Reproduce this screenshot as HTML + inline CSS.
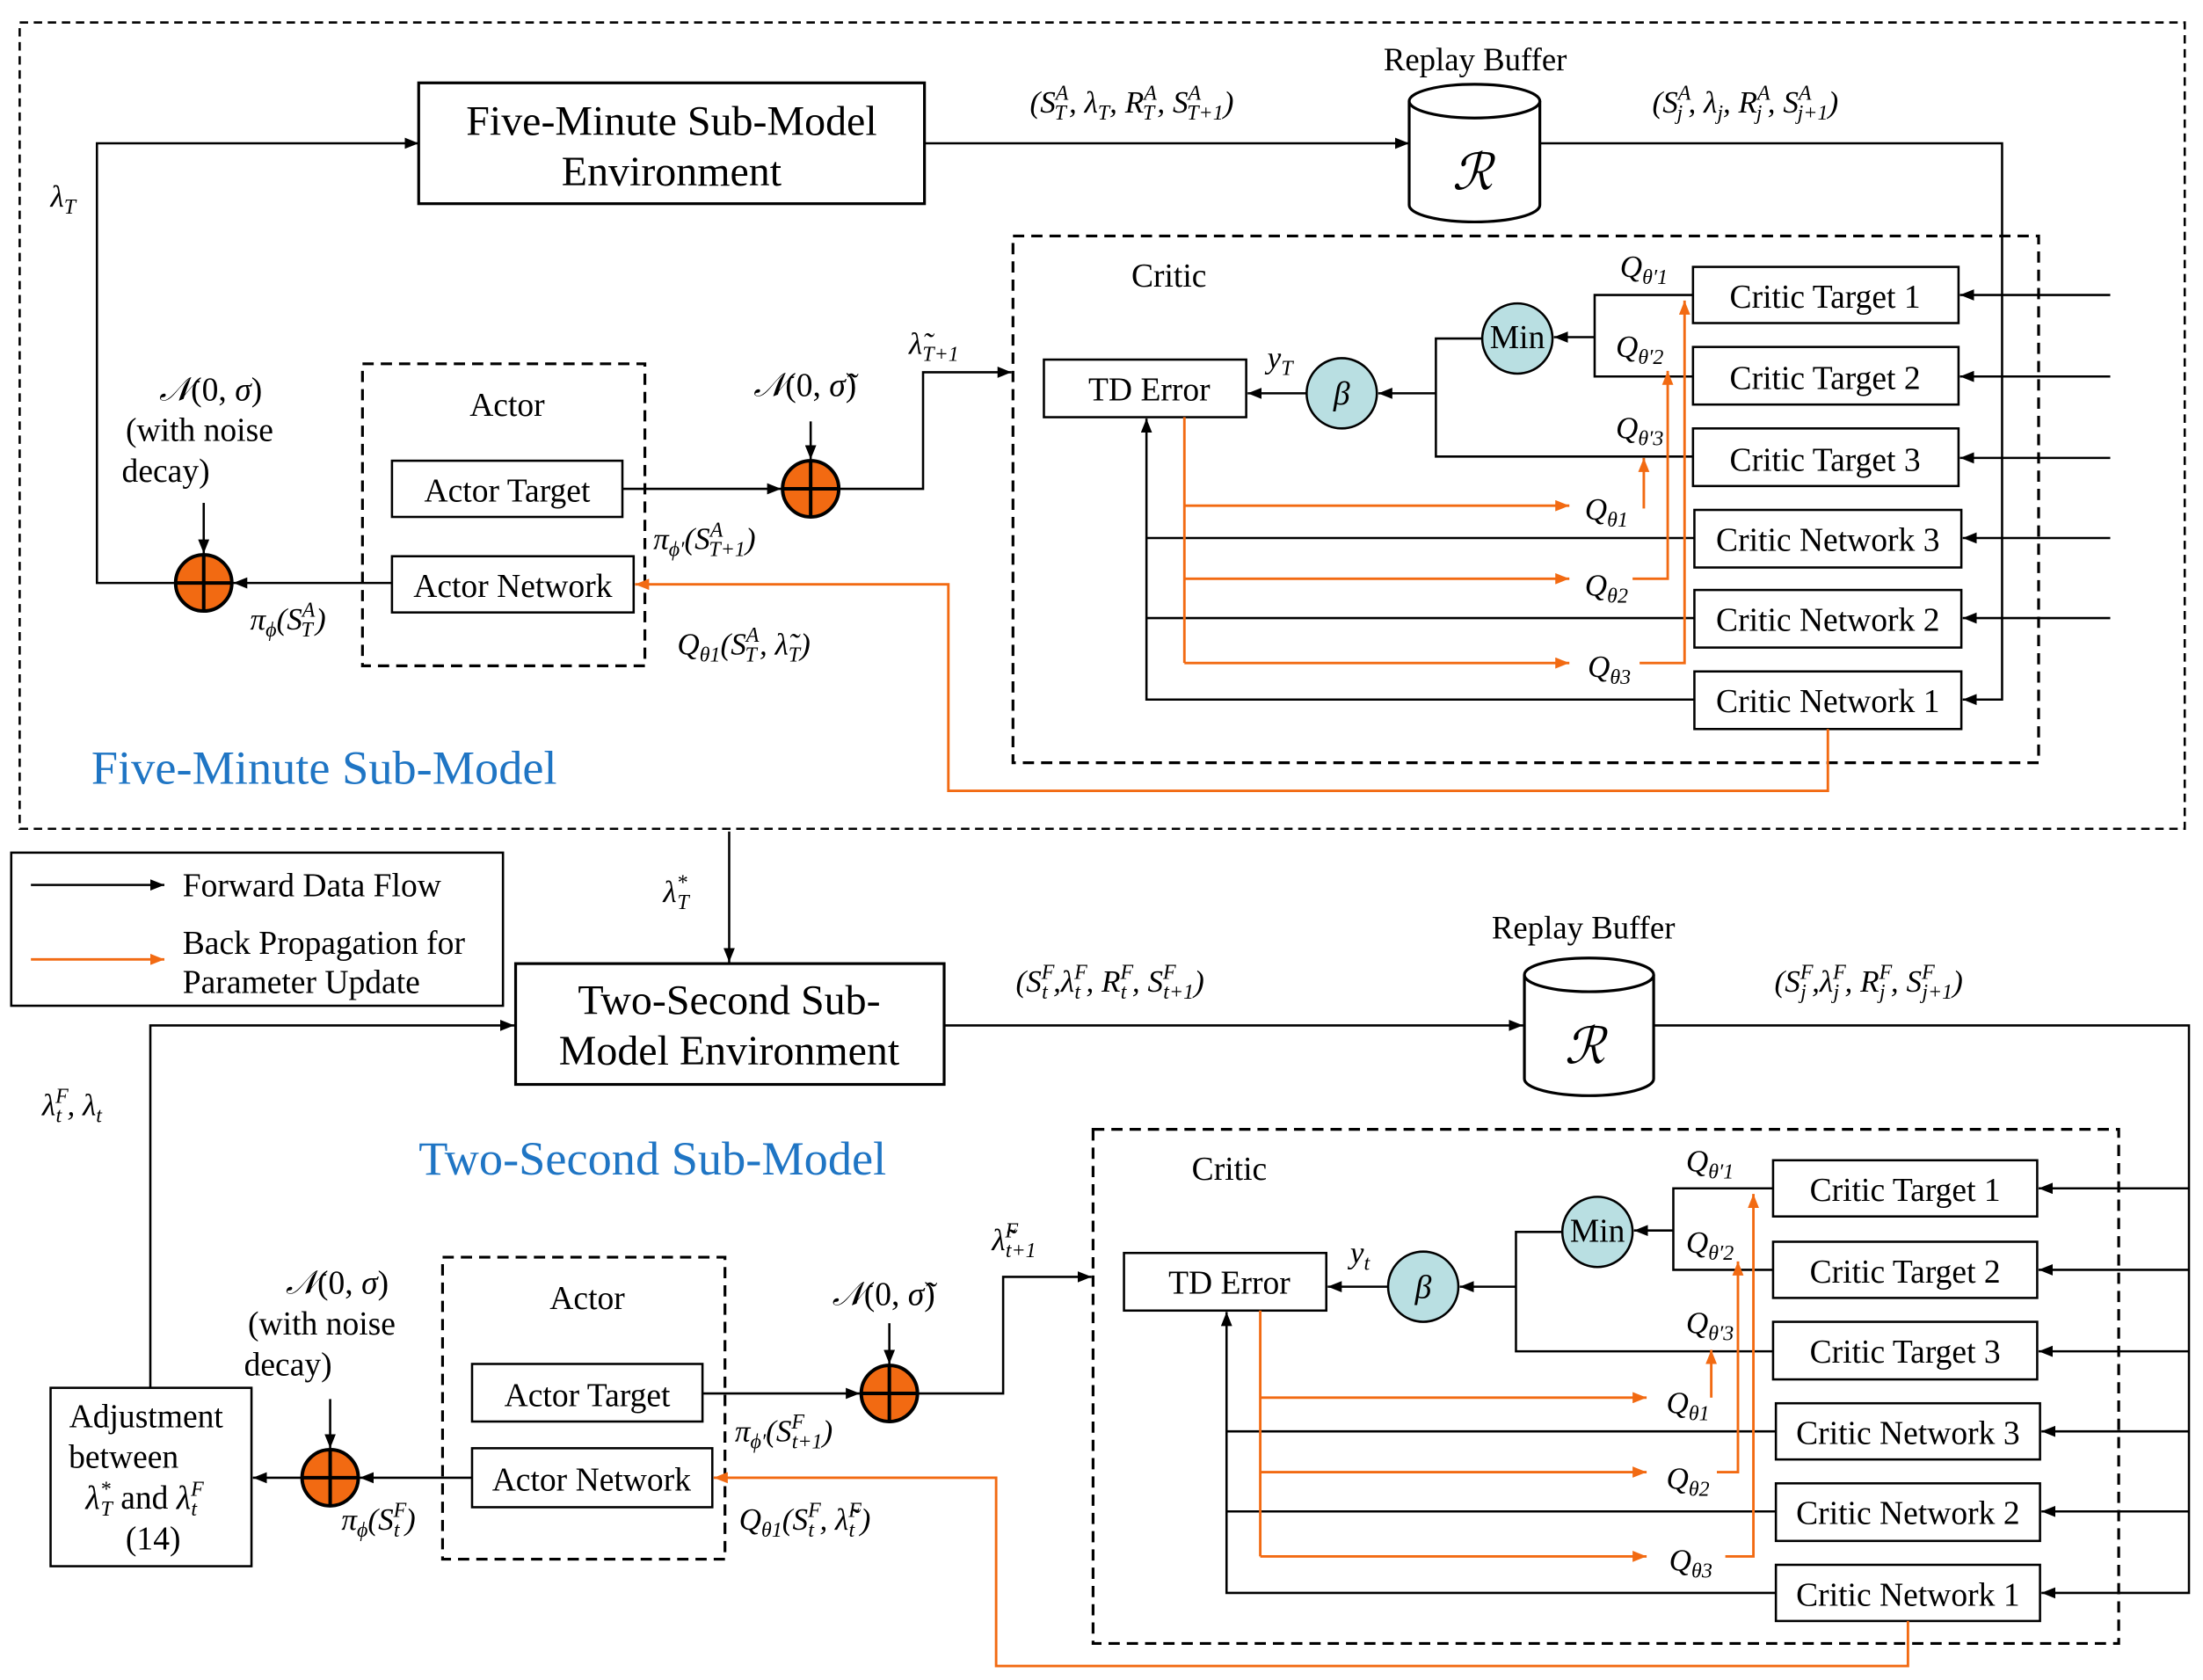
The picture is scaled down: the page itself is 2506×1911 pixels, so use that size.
<!DOCTYPE html>
<html><head><meta charset="utf-8"><style>
html,body{margin:0;padding:0;background:#fff}
svg{display:block}
text{font-family:"Liberation Serif",serif;fill:#000}
.m{font-style:italic}
.b{font-size:23.5px}
</style></head><body>
<svg width="2506" height="1911" viewBox="0 0 1568 1196" preserveAspectRatio="none" xmlns="http://www.w3.org/2000/svg">
<defs>
<marker id="a" markerWidth="10" markerHeight="8" refX="10" refY="4" orient="auto" markerUnits="userSpaceOnUse"><path d="M0,0 L10,4 L0,8z" fill="#000"/></marker>
<marker id="o" markerWidth="10" markerHeight="8" refX="10" refY="4" orient="auto" markerUnits="userSpaceOnUse"><path d="M0,0 L10,4 L0,8z" fill="#f26a12"/></marker>
</defs>
<g fill="none" stroke="#000" stroke-width="1.6">
<rect x="14" y="16" width="1541" height="574" stroke-dasharray="6,4"/>
<rect x="298" y="59" width="360" height="86" stroke-width="2"/>
<line x1="658" y1="102" x2="1003" y2="102" marker-end="url(#a)"/>
<path d="M1003,72 L1003,146 A46.5,12 0 0 0 1096,146 L1096,72" fill="#fff" stroke-width="2"/>
<ellipse cx="1049.5" cy="72" rx="46.5" ry="12" fill="#fff" stroke-width="2"/>
<polyline points="1096,102 1425,102 1425,498 1397,498" marker-end="url(#a)"/>
<polyline points="145,415 69,415 69,102 298,102" marker-end="url(#a)"/>
<rect x="258" y="259" width="201" height="215" stroke-dasharray="8,5" stroke-width="2"/>
<rect x="279" y="328" width="164" height="40"/>
<rect x="279" y="396" width="172" height="40"/>
<line x1="279" y1="415" x2="166" y2="415" marker-end="url(#a)"/>
<line x1="145" y1="358" x2="145" y2="394" marker-end="url(#a)"/>
<line x1="443" y1="348" x2="556" y2="348" marker-end="url(#a)"/>
<line x1="577" y1="300" x2="577" y2="327" marker-end="url(#a)"/>
<polyline points="597,348 657,348 657,265 720,265" marker-end="url(#a)"/>
<rect x="721" y="168" width="730" height="375" stroke-dasharray="8,5" stroke-width="2"/>
<rect x="743" y="256" width="144" height="41"/>
<rect x="1205" y="190" width="189" height="40"/>
<rect x="1205" y="247" width="189" height="41"/>
<rect x="1205" y="305" width="189" height="41"/>
<rect x="1206" y="363" width="190" height="41"/>
<rect x="1206" y="420" width="190" height="41"/>
<rect x="1206" y="478" width="190" height="41"/>
<line x1="1502" y1="210" x2="1395" y2="210" marker-end="url(#a)"/>
<line x1="1502" y1="268" x2="1395" y2="268" marker-end="url(#a)"/>
<line x1="1502" y1="326" x2="1395" y2="326" marker-end="url(#a)"/>
<line x1="1502" y1="383" x2="1397" y2="383" marker-end="url(#a)"/>
<line x1="1502" y1="440" x2="1397" y2="440" marker-end="url(#a)"/>
<polyline points="1205,210 1135,210 1135,268 1205,268"/>
<line x1="1135" y1="240" x2="1106" y2="240" marker-end="url(#a)"/>
<polyline points="1055,241 1022,241 1022,325 1205,325"/>
<line x1="1022" y1="280" x2="981" y2="280" marker-end="url(#a)"/>
<line x1="930" y1="280" x2="888" y2="280" marker-end="url(#a)"/>
<polyline points="1206,498 816,498 816,298" marker-end="url(#a)"/>
<line x1="816" y1="383" x2="1206" y2="383"/>
<line x1="816" y1="440" x2="1206" y2="440"/>
<circle cx="955" cy="280" r="25" fill="#b9dfe2"/>
<circle cx="1080" cy="241" r="25" fill="#b9dfe2"/>
<line x1="519" y1="592" x2="519" y2="685" marker-end="url(#a)"/>
<rect x="8" y="607" width="350" height="109"/>
<line x1="22" y1="630" x2="117" y2="630" marker-end="url(#a)"/>
<rect x="367" y="686" width="305" height="86" stroke-width="2"/>
<line x1="672" y1="730" x2="1084" y2="730" marker-end="url(#a)"/>
<path d="M1085,694 L1085,768 A46,12 0 0 0 1177,768 L1177,694" fill="#fff" stroke-width="2"/>
<ellipse cx="1131" cy="694" rx="46" ry="12" fill="#fff" stroke-width="2"/>
<polyline points="1177,730 1558,730 1558,1134 1453,1134" marker-end="url(#a)"/>
<line x1="1558" y1="846" x2="1451" y2="846" marker-end="url(#a)"/>
<line x1="1558" y1="904" x2="1451" y2="904" marker-end="url(#a)"/>
<line x1="1558" y1="962" x2="1451" y2="962" marker-end="url(#a)"/>
<line x1="1558" y1="1019" x2="1453" y2="1019" marker-end="url(#a)"/>
<line x1="1558" y1="1076" x2="1453" y2="1076" marker-end="url(#a)"/>
<rect x="36" y="988" width="143" height="127"/>
<polyline points="107,988 107,730 366,730" marker-end="url(#a)"/>
<rect x="315" y="895" width="201" height="215" stroke-dasharray="8,5" stroke-width="2"/>
<rect x="336" y="971" width="164" height="41"/>
<rect x="336" y="1031" width="171" height="42"/>
<line x1="336" y1="1052" x2="256" y2="1052" marker-end="url(#a)"/>
<line x1="215" y1="1052" x2="180" y2="1052" marker-end="url(#a)"/>
<line x1="235" y1="996" x2="235" y2="1031" marker-end="url(#a)"/>
<line x1="500" y1="992" x2="612" y2="992" marker-end="url(#a)"/>
<line x1="633" y1="942" x2="633" y2="971" marker-end="url(#a)"/>
<polyline points="653,992 714,992 714,909 777,909" marker-end="url(#a)"/>
<rect x="778" y="804" width="730" height="366" stroke-dasharray="8,5" stroke-width="2"/>
<rect x="800" y="892" width="144" height="41"/>
<rect x="1262" y="826" width="188" height="40"/>
<rect x="1262" y="884" width="188" height="40"/>
<rect x="1262" y="941" width="188" height="41"/>
<rect x="1264" y="999" width="188" height="40"/>
<rect x="1264" y="1056" width="188" height="41"/>
<rect x="1264" y="1114" width="188" height="40"/>
<polyline points="1262,846 1191,846 1191,904 1262,904"/>
<line x1="1191" y1="876" x2="1163" y2="876" marker-end="url(#a)"/>
<polyline points="1112,877 1079,877 1079,962 1262,962"/>
<line x1="1079" y1="916" x2="1039" y2="916" marker-end="url(#a)"/>
<line x1="988" y1="916" x2="945" y2="916" marker-end="url(#a)"/>
<polyline points="1264,1134 873,1134 873,934" marker-end="url(#a)"/>
<line x1="873" y1="1019" x2="1264" y2="1019"/>
<line x1="873" y1="1076" x2="1264" y2="1076"/>
<circle cx="1013" cy="916" r="25" fill="#b9dfe2"/>
<circle cx="1137" cy="877" r="25" fill="#b9dfe2"/>
</g>
<g fill="none" stroke="#f26a12" stroke-width="1.8">
<polyline points="843,297 843,472"/>
<line x1="843" y1="360" x2="1117" y2="360" marker-end="url(#o)"/>
<line x1="843" y1="412" x2="1117" y2="412" marker-end="url(#o)"/>
<line x1="843" y1="472" x2="1117" y2="472" marker-end="url(#o)"/>
<line x1="1170" y1="362" x2="1170" y2="326" marker-end="url(#o)"/>
<polyline points="1162,412 1187,412 1187,264" marker-end="url(#o)"/>
<polyline points="1167,472 1199,472 1199,214" marker-end="url(#o)"/>
<polyline points="1301,519 1301,563 675,563 675,416 452,416" marker-end="url(#o)"/>
<line x1="22" y1="683" x2="117" y2="683" marker-end="url(#o)"/>
<polyline points="897,933 897,1108"/>
<line x1="897" y1="995" x2="1172" y2="995" marker-end="url(#o)"/>
<line x1="897" y1="1048" x2="1172" y2="1048" marker-end="url(#o)"/>
<line x1="897" y1="1108" x2="1172" y2="1108" marker-end="url(#o)"/>
<line x1="1218" y1="995" x2="1218" y2="961" marker-end="url(#o)"/>
<polyline points="1222,1048 1237,1048 1237,898" marker-end="url(#o)"/>
<polyline points="1228,1108 1248,1108 1248,850" marker-end="url(#o)"/>
<polyline points="1358,1154 1358,1186 709,1186 709,1052 508,1052" marker-end="url(#o)"/>
</g>
<g stroke="#000" stroke-width="2.5" fill="#f26a12">
<circle cx="145" cy="415" r="20"/><path d="M125,415h40M145,395v40"/>
<circle cx="577" cy="348" r="20"/><path d="M557,348h40M577,328v40"/>
<circle cx="235" cy="1052" r="20"/><path d="M215,1052h40M235,1032v40"/>
<circle cx="633" cy="992" r="20"/><path d="M613,992h40M633,972v40"/>
</g>
<g text-anchor="middle">
<text x="478" y="96" font-size="30">Five-Minute Sub-Model</text>
<text x="478" y="132" font-size="30">Environment</text>
<text x="1050" y="50" font-size="23">Replay Buffer</text>
<text x="1048" y="135" font-size="36" class="m">ℛ</text>
<text x="361" y="296" class="b">Actor</text>
<text x="361" y="357" class="b">Actor Target</text>
<text x="365" y="425" class="b">Actor Network</text>
<text x="832" y="204" class="b">Critic</text>
<text x="818" y="285" class="b">TD Error</text>
<text x="955" y="288" class="b m">β</text>
<text x="1080" y="248" class="b">Min</text>
<text x="1299" y="219" class="b">Critic Target 1</text>
<text x="1299" y="277" class="b">Critic Target 2</text>
<text x="1299" y="335" class="b">Critic Target 3</text>
<text x="1301" y="392" class="b">Critic Network 3</text>
<text x="1301" y="449" class="b">Critic Network 2</text>
<text x="1301" y="507" class="b">Critic Network 1</text>
<text x="150" y="285" class="b"><tspan class="m">𝒩</tspan>(0,  <tspan class="m">σ</tspan>)</text>
<text x="142" y="314" class="b">(with noise</text>
<text x="118" y="343" class="b">decay)</text>
<text x="573" y="282" class="b"><tspan class="m">𝒩</tspan>(0,  <tspan class="m">σ̃</tspan>)</text>
</g>
<g font-size="22" class="m">
<text x="733" y="80">(S<tspan font-size="15" dy="-9">A</tspan><tspan font-size="15" dy="14" dx="-10">T</tspan><tspan dy="-5" dx="2">,  λ</tspan><tspan font-size="15" dy="5">T</tspan><tspan dy="-5">,  R</tspan><tspan font-size="15" dy="-9">A</tspan><tspan font-size="15" dy="14" dx="-10">T</tspan><tspan dy="-5" dx="2">,  S</tspan><tspan font-size="15" dy="-9">A</tspan><tspan font-size="15" dy="14" dx="-10">T+1</tspan><tspan dy="-5">)</tspan></text>
<text x="1176" y="80">(S<tspan font-size="15" dy="-9">A</tspan><tspan font-size="15" dy="14" dx="-10">j</tspan><tspan dy="-5" dx="4">,  λ</tspan><tspan font-size="15" dy="5">j</tspan><tspan dy="-5">,  R</tspan><tspan font-size="15" dy="-9">A</tspan><tspan font-size="15" dy="14" dx="-10">j</tspan><tspan dy="-5" dx="4">,  S</tspan><tspan font-size="15" dy="-9">A</tspan><tspan font-size="15" dy="14" dx="-10">j+1</tspan><tspan dy="-5">)</tspan></text>
<text x="36" y="147">λ<tspan font-size="15" dy="5">T</tspan></text>
<text x="647" y="252">λ̃<tspan font-size="15" dy="5">T+1</tspan></text>
<text x="902" y="262">y<tspan font-size="15" dy="5">T</tspan></text>
<text x="1153" y="197">Q<tspan font-size="15" dy="5">θ′1</tspan></text>
<text x="1150" y="254">Q<tspan font-size="15" dy="5">θ′2</tspan></text>
<text x="1150" y="312">Q<tspan font-size="15" dy="5">θ′3</tspan></text>
<text x="1128" y="370">Q<tspan font-size="15" dy="5">θ1</tspan></text>
<text x="1128" y="424">Q<tspan font-size="15" dy="5">θ2</tspan></text>
<text x="1130" y="482">Q<tspan font-size="15" dy="5">θ3</tspan></text>
<text x="465" y="391">π<tspan font-size="15" dy="5">ϕ′</tspan><tspan dy="-5">(S</tspan><tspan font-size="15" dy="-9">A</tspan><tspan font-size="15" dy="14" dx="-10">T+1</tspan><tspan dy="-5">)</tspan></text>
<text x="178" y="448">π<tspan font-size="15" dy="5">ϕ</tspan><tspan dy="-5">(S</tspan><tspan font-size="15" dy="-9">A</tspan><tspan font-size="15" dy="14" dx="-10">T</tspan><tspan dy="-5" dx="2">)</tspan></text>
<text x="482" y="466">Q<tspan font-size="15" dy="5">θ1</tspan><tspan dy="-5">(S</tspan><tspan font-size="15" dy="-9">A</tspan><tspan font-size="15" dy="14" dx="-10">T</tspan><tspan dy="-5" dx="2">,  λ̃</tspan><tspan font-size="15" dy="5">T</tspan><tspan dy="-5">)</tspan></text>
</g>
<text x="65" y="558" font-size="34" style="fill:#1f75c4">Five-Minute Sub-Model</text>
<text x="130" y="638" class="b">Forward Data Flow</text>
<text x="130" y="679" class="b">Back Propagation for</text>
<text x="130" y="707" class="b">Parameter Update</text>
<text x="298" y="836" font-size="34" style="fill:#1f75c4">Two-Second Sub-Model</text>
<g text-anchor="middle">
<text x="519" y="722" font-size="30">Two-Second Sub-</text>
<text x="519" y="758" font-size="30">Model Environment</text>
<text x="1127" y="668" font-size="23">Replay Buffer</text>
<text x="1128" y="757" font-size="36" class="m">ℛ</text>
<text x="418" y="932" class="b">Actor</text>
<text x="418" y="1001" class="b">Actor Target</text>
<text x="421" y="1061" class="b">Actor Network</text>
<text x="875" y="840" class="b">Critic</text>
<text x="875" y="921" class="b">TD Error</text>
<text x="1013" y="924" class="b m">β</text>
<text x="1137" y="884" class="b">Min</text>
<text x="1356" y="855" class="b">Critic Target 1</text>
<text x="1356" y="913" class="b">Critic Target 2</text>
<text x="1356" y="970" class="b">Critic Target 3</text>
<text x="1358" y="1028" class="b">Critic Network 3</text>
<text x="1358" y="1085" class="b">Critic Network 2</text>
<text x="1358" y="1143" class="b">Critic Network 1</text>
<text x="240" y="921" class="b"><tspan class="m">𝒩</tspan>(0,  <tspan class="m">σ</tspan>)</text>
<text x="229" y="950" class="b">(with noise</text>
<text x="205" y="979" class="b">decay)</text>
<text x="629" y="929" class="b"><tspan class="m">𝒩</tspan>(0,  <tspan class="m">σ̃</tspan>)</text>
<text x="104" y="1016" class="b">Adjustment</text>
<text x="88" y="1045" class="b">between</text>
<text x="103" y="1074" class="b"><tspan class="m">λ</tspan><tspan font-size="15" dy="-9" class="m">*</tspan><tspan font-size="15" dy="14" dx="-7" class="m">T</tspan><tspan dy="-5"> and </tspan><tspan class="m">λ</tspan><tspan font-size="15" dy="-9" class="m">F</tspan><tspan font-size="15" dy="14" dx="-9" class="m">t</tspan></text>
<text x="109" y="1103" class="b">(14)</text>
</g>
<g font-size="22" class="m">
<text x="472" y="642">λ<tspan font-size="15" dy="-9">*</tspan><tspan font-size="15" dy="14" dx="-7">T</tspan></text>
<text x="723" y="706">(S<tspan font-size="15" dy="-9">F</tspan><tspan font-size="15" dy="14" dx="-9">t</tspan><tspan dy="-5" dx="4">,λ</tspan><tspan font-size="15" dy="-9">F</tspan><tspan font-size="15" dy="14" dx="-9">t</tspan><tspan dy="-5" dx="4">,  R</tspan><tspan font-size="15" dy="-9">F</tspan><tspan font-size="15" dy="14" dx="-9">t</tspan><tspan dy="-5" dx="4">,  S</tspan><tspan font-size="15" dy="-9">F</tspan><tspan font-size="15" dy="14" dx="-9">t+1</tspan><tspan dy="-5">)</tspan></text>
<text x="1263" y="706">(S<tspan font-size="15" dy="-9">F</tspan><tspan font-size="15" dy="14" dx="-9">j</tspan><tspan dy="-5" dx="4">,λ</tspan><tspan font-size="15" dy="-9">F</tspan><tspan font-size="15" dy="14" dx="-9">j</tspan><tspan dy="-5" dx="4">,  R</tspan><tspan font-size="15" dy="-9">F</tspan><tspan font-size="15" dy="14" dx="-9">j</tspan><tspan dy="-5" dx="4">,  S</tspan><tspan font-size="15" dy="-9">F</tspan><tspan font-size="15" dy="14" dx="-9">j+1</tspan><tspan dy="-5">)</tspan></text>
<text x="30" y="794">λ<tspan font-size="15" dy="-9">F</tspan><tspan font-size="15" dy="14" dx="-9">t</tspan><tspan dy="-5" dx="4">, λ</tspan><tspan font-size="15" dy="5">t</tspan></text>
<text x="706" y="890">λ̃<tspan font-size="15" dy="-9">F</tspan><tspan font-size="15" dy="14" dx="-9">t+1</tspan></text>
<text x="961" y="899">y<tspan font-size="15" dy="5">t</tspan></text>
<text x="1200" y="834">Q<tspan font-size="15" dy="5">θ′1</tspan></text>
<text x="1200" y="892">Q<tspan font-size="15" dy="5">θ′2</tspan></text>
<text x="1200" y="949">Q<tspan font-size="15" dy="5">θ′3</tspan></text>
<text x="1186" y="1006">Q<tspan font-size="15" dy="5">θ1</tspan></text>
<text x="1186" y="1060">Q<tspan font-size="15" dy="5">θ2</tspan></text>
<text x="1188" y="1118">Q<tspan font-size="15" dy="5">θ3</tspan></text>
<text x="523" y="1026">π<tspan font-size="15" dy="5">ϕ′</tspan><tspan dy="-5">(S</tspan><tspan font-size="15" dy="-9">F</tspan><tspan font-size="15" dy="14" dx="-9">t+1</tspan><tspan dy="-5">)</tspan></text>
<text x="243" y="1089">π<tspan font-size="15" dy="5">ϕ</tspan><tspan dy="-5">(S</tspan><tspan font-size="15" dy="-9">F</tspan><tspan font-size="15" dy="14" dx="-9">t</tspan><tspan dy="-5" dx="4">)</tspan></text>
<text x="526" y="1089">Q<tspan font-size="15" dy="5">θ1</tspan><tspan dy="-5">(S</tspan><tspan font-size="15" dy="-9">F</tspan><tspan font-size="15" dy="14" dx="-9">t</tspan><tspan dy="-5" dx="4">,  λ̃</tspan><tspan font-size="15" dy="-9">F</tspan><tspan font-size="15" dy="14" dx="-9">t</tspan><tspan dy="-5" dx="4">)</tspan></text>
</g>
</svg>
</body></html>
